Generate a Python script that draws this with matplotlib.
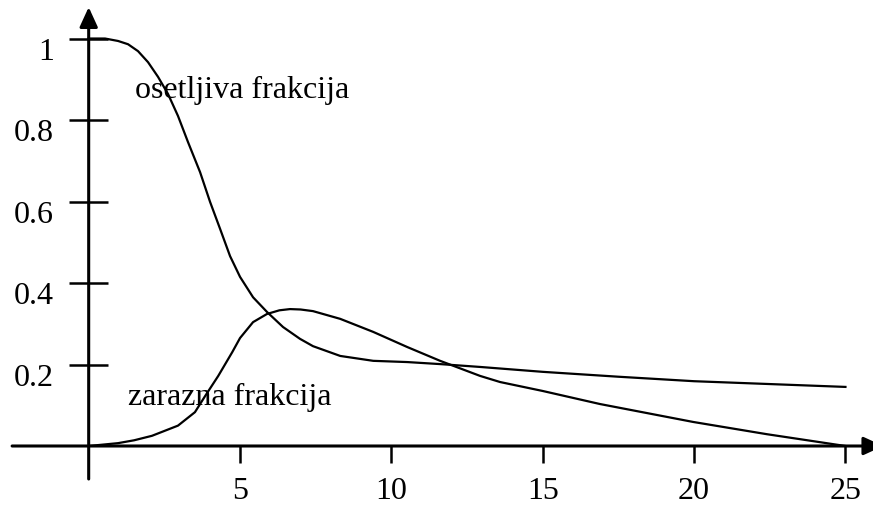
import matplotlib
matplotlib.use("Agg")
import matplotlib.pyplot as plt

# Susceptible fraction (osetljiva frakcija)
s_t = [0.0, 0.54, 0.97, 1.30, 1.63, 1.96, 2.29, 2.62, 2.95, 3.28, 3.68, 4.01, 4.34, 4.67,
       5.0, 5.43, 5.89, 6.42, 6.98, 7.41, 8.31, 9.40, 10.52, 11.61, 12.93, 15.0, 17.5,
       20.0, 22.5, 25.0]
s_v = [1.0, 1.0, 0.994, 0.986, 0.969, 0.942, 0.906, 0.864, 0.810, 0.746, 0.672, 0.599, 0.533, 0.466,
       0.415, 0.365, 0.329, 0.292, 0.263, 0.245, 0.221, 0.209, 0.206, 0.201, 0.194, 0.182, 0.170,
       0.159, 0.152, 0.145]

# Infectious fraction (zarazna frakcija)
i_t = [0.0, 0.97, 1.5, 2.09, 2.95, 3.51, 3.85, 4.28, 4.74, 5.0, 5.43, 5.89, 6.3, 6.65, 7.0,
       7.41, 8.31, 9.40, 10.52, 11.61, 12.93, 13.59, 15.0, 16.89, 19.97, 22.4, 25.0]
i_v = [0.0, 0.007, 0.014, 0.025, 0.05, 0.083, 0.123, 0.172, 0.23, 0.265, 0.304, 0.324, 0.333, 0.336, 0.335,
       0.331, 0.312, 0.280, 0.243, 0.209, 0.172, 0.157, 0.135, 0.103, 0.059, 0.029, 0.0]

x_ticks = [5, 10, 15, 20, 25]
x_tick_labels = ["5", "10", "15", "20", "25"]
y_ticks = [0.2, 0.4, 0.6, 0.8, 1.0]
y_tick_labels = ["0.2", "0.4", "0.6", "0.8", "1"]

plt.rcParams['font.family'] = ['Liberation Serif', 'DejaVu Serif']
FS = 23

fig = plt.figure(figsize=(8.73, 5.06), dpi=100)
ax = fig.add_axes([0, 0, 1, 1])
ax.set_xlim(-2.93, 25.91)
ax.set_ylim(-0.1448, 1.097)
ax.axis('off')

ux = 1 / 30.27   # data units per pixel (x)
uy = 1 / 407.5   # data units per pixel (y)

arrow = dict(arrowstyle='-|>,head_length=1.2,head_width=0.55', lw=2.2, color='black',
             shrinkA=0, shrinkB=0, mutation_scale=10)
# axes with arrows
ax.annotate('', xy=(0, 1.077), xytext=(0, -0.081), arrowprops=arrow, annotation_clip=False)
ax.annotate('', xy=(26.25, 0), xytext=(-2.53, 0), arrowprops=arrow, annotation_clip=False)

# y ticks
for yv, lab in zip(y_ticks, y_tick_labels):
    ax.plot([-20 * ux, 19 * ux], [yv, yv], color='black', lw=1.8, solid_capstyle='butt')
    ax.text(-34.5 * ux, yv - 12.5 * uy, lab, ha='right', va='center', fontsize=FS)

# x ticks
for xv, lab in zip(x_ticks, x_tick_labels):
    ax.plot([xv, xv], [0, -17 * uy], color='black', lw=1.8, solid_capstyle='butt')
    ax.text(xv, -45 * uy, lab, ha='center', va='center', fontsize=FS)

ax.plot(s_t, s_v, color='black', lw=1.6, solid_joinstyle='round')
ax.plot(i_t, i_v, color='black', lw=1.6, solid_joinstyle='round')

ax.text(1.53, 0.856, "osetljiva frakcija", ha='left', va='baseline', fontsize=FS)
ax.text(1.30, 0.103, "zarazna frakcija", ha='left', va='baseline', fontsize=FS)

fig.savefig("out.png", dpi=100)
